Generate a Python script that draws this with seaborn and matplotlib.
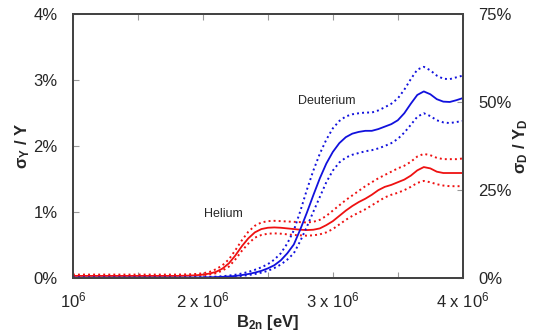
import numpy as np
import pandas as pd
import matplotlib
matplotlib.use("Agg")
import matplotlib.pyplot as plt
import seaborn as sns
from matplotlib.ticker import FixedLocator, FuncFormatter

# B_2n grid in units of 1e6 eV
b2n = np.array([1.0, 1.2, 1.4, 1.6, 1.8,
                1.9, 1.95, 2.0, 2.05, 2.1, 2.15, 2.2, 2.25, 2.3, 2.35,
                2.4, 2.45, 2.5, 2.55, 2.6, 2.65, 2.7, 2.75, 2.8, 2.85,
                2.9, 2.95, 3.0, 3.05, 3.1, 3.15, 3.2, 3.25, 3.3, 3.35,
                3.4, 3.45, 3.5, 3.55, 3.6, 3.65, 3.7, 3.75, 3.8, 3.85,
                3.9, 3.95, 4.0]) * 1e6

# Helium sigma_Y / Y  [%]  (left axis)
he_mid = [0.03, 0.03, 0.03, 0.03, 0.03,
          0.035, 0.04, 0.05, 0.065, 0.09, 0.14, 0.22, 0.34, 0.48, 0.60,
          0.69, 0.74, 0.76, 0.765, 0.76, 0.75, 0.74, 0.73, 0.725, 0.73,
          0.75, 0.80, 0.86, 0.94, 1.02, 1.09, 1.15, 1.20, 1.26, 1.33,
          1.38, 1.41, 1.45, 1.49, 1.55, 1.63, 1.68, 1.66, 1.61, 1.59,
          1.59, 1.59, 1.59]
he_hi = [0.05, 0.05, 0.05, 0.05, 0.05,
         0.055, 0.06, 0.07, 0.09, 0.13, 0.19, 0.28, 0.42, 0.57, 0.70,
         0.79, 0.84, 0.86, 0.865, 0.86, 0.855, 0.85, 0.845, 0.84, 0.85,
         0.88, 0.94, 1.02, 1.10, 1.18, 1.25, 1.32, 1.39, 1.45, 1.51,
         1.56, 1.61, 1.66, 1.70, 1.76, 1.84, 1.88, 1.86, 1.82, 1.80,
         1.80, 1.80, 1.81]
he_lo = [0.02, 0.02, 0.02, 0.02, 0.02,
         0.025, 0.03, 0.04, 0.05, 0.07, 0.11, 0.17, 0.28, 0.41, 0.52,
         0.61, 0.65, 0.67, 0.675, 0.67, 0.66, 0.65, 0.645, 0.64, 0.645,
         0.66, 0.69, 0.74, 0.81, 0.88, 0.94, 0.99, 1.04, 1.10, 1.16,
         1.22, 1.26, 1.29, 1.33, 1.38, 1.44, 1.47, 1.45, 1.42, 1.40,
         1.39, 1.39, 1.39]

# Deuterium sigma_D / Y_D  [%]  (right axis)
d_mid = [0.05, 0.05, 0.05, 0.05, 0.05,
         0.08, 0.10, 0.12, 0.17, 0.22, 0.30, 0.40, 0.55, 0.80, 1.10,
         1.50, 2.00, 2.70, 3.60, 5.00, 7.00, 9.50, 13.8, 18.5, 23.5,
         28.3, 32.5, 35.8, 38.3, 40.0, 41.0, 41.5, 41.8, 41.8, 42.3,
         43.0, 43.7, 44.8, 46.8, 49.5, 52.0, 53.0, 52.2, 50.8, 50.1,
         50.0, 50.5, 51.1]
d_hi = [0.10, 0.10, 0.10, 0.10, 0.10,
        0.12, 0.15, 0.20, 0.26, 0.35, 0.48, 0.65, 0.90, 1.25, 1.70,
        2.30, 3.00, 3.90, 5.20, 7.00, 9.80, 13.5, 19.0, 25.0, 30.5,
        35.3, 39.3, 42.5, 44.6, 45.9, 46.5, 46.8, 47.0, 47.0, 47.6,
        48.5, 49.5, 51.0, 53.5, 56.5, 59.2, 60.0, 59.0, 57.5, 56.6,
        56.5, 57.0, 57.5]
d_lo = [0.03, 0.03, 0.03, 0.03, 0.03,
        0.04, 0.05, 0.07, 0.10, 0.14, 0.20, 0.28, 0.40, 0.58, 0.80,
        1.10, 1.50, 2.00, 2.80, 3.80, 5.20, 7.00, 10.5, 14.5, 18.8,
        23.0, 27.2, 30.5, 32.8, 34.2, 35.0, 35.5, 36.0, 36.3, 36.8,
        37.5, 38.3, 39.5, 41.3, 43.5, 45.8, 46.8, 46.0, 44.8, 44.2,
        44.0, 44.3, 44.6]

x_major = [1e6, 2e6, 3e6, 4e6]
x_minor = [1.5e6, 2.5e6, 3.5e6]
x_labels = ["$10^6$", "2 x $10^6$", "3 x $10^6$", "4 x $10^6$"]
left_ticks = [0, 1, 2, 3, 4]
right_ticks = [0, 25, 50, 75]

sns.set_theme(style="white")
plt.rcParams["font.family"] = ["Liberation Sans", "DejaVu Sans"]
plt.rcParams["mathtext.fontset"] = "custom"
plt.rcParams["mathtext.rm"] = "Liberation Sans"
plt.rcParams["mathtext.it"] = "Liberation Sans:italic"
plt.rcParams["mathtext.bf"] = "Liberation Sans:bold"

red = "#ee1111"
blue = "#1111dd"
frame = "#444444"
dots = (0, (1, 1.6))

fig = plt.figure(figsize=(5.4, 3.34), dpi=100)
ax = fig.add_axes([0.135, 0.168, 0.722, 0.79])
ax2 = ax.twinx()

sns.lineplot(x=b2n, y=he_mid, ax=ax, color=red, lw=1.3)
sns.lineplot(x=b2n, y=he_hi, ax=ax, color=red, lw=1.4, linestyle=dots)
sns.lineplot(x=b2n, y=he_lo, ax=ax, color=red, lw=1.4, linestyle=dots)

sns.lineplot(x=b2n, y=d_mid, ax=ax2, color=blue, lw=1.3)
sns.lineplot(x=b2n, y=d_hi, ax=ax2, color=blue, lw=1.4, linestyle=dots)
sns.lineplot(x=b2n, y=d_lo, ax=ax2, color=blue, lw=1.4, linestyle=dots)

ax.set_xlim(1e6, 4e6)
ax.set_ylim(0, 4)
ax2.set_ylim(0, 75)

ax.xaxis.set_major_locator(FixedLocator(x_major))
ax.xaxis.set_minor_locator(FixedLocator(x_minor))
ax.set_xticklabels(x_labels)
ax.yaxis.set_major_locator(FixedLocator(left_ticks))
ax.yaxis.set_major_formatter(FuncFormatter(lambda v, p: f"{v:.0f}%"))
ax2.yaxis.set_major_locator(FixedLocator(right_ticks))
ax2.yaxis.set_major_formatter(FuncFormatter(lambda v, p: f"{v:.0f}%"))

ax.tick_params(axis="x", which="both", direction="in", top=True, bottom=True,
               length=4, width=0.8, color="#999999", labelsize=12, pad=9)
ax.tick_params(axis="y", direction="in", left=True, right=False,
               length=4, width=0.8, color="#999999", labelsize=12, pad=11)
ax2.tick_params(axis="y", direction="in", left=False, right=True,
                length=4, width=0.8, color="#999999", labelsize=12, pad=11)

for a in (ax, ax2):
    for s in a.spines.values():
        s.set_color(frame)
        s.set_linewidth(1.4)

ax.set_xlabel(r"B$_\mathbf{2n}$ [eV]", fontsize=12, fontweight="bold", labelpad=2)
ax.set_ylabel(r"σ$_\mathbf{Y}$ / Y", fontsize=12, fontweight="bold", labelpad=1)
ax2.set_ylabel(r"σ$_\mathbf{D}$ / Y$_\mathbf{D}$", fontsize=12, fontweight="bold", labelpad=0)

ax.text(2.16e6, 0.97, "Helium", fontsize=9, ha="center", va="center")
ax2.text(2.95e6, 50.3, "Deuterium", fontsize=9, ha="center", va="center")

fig.savefig("out.png", dpi=100)
